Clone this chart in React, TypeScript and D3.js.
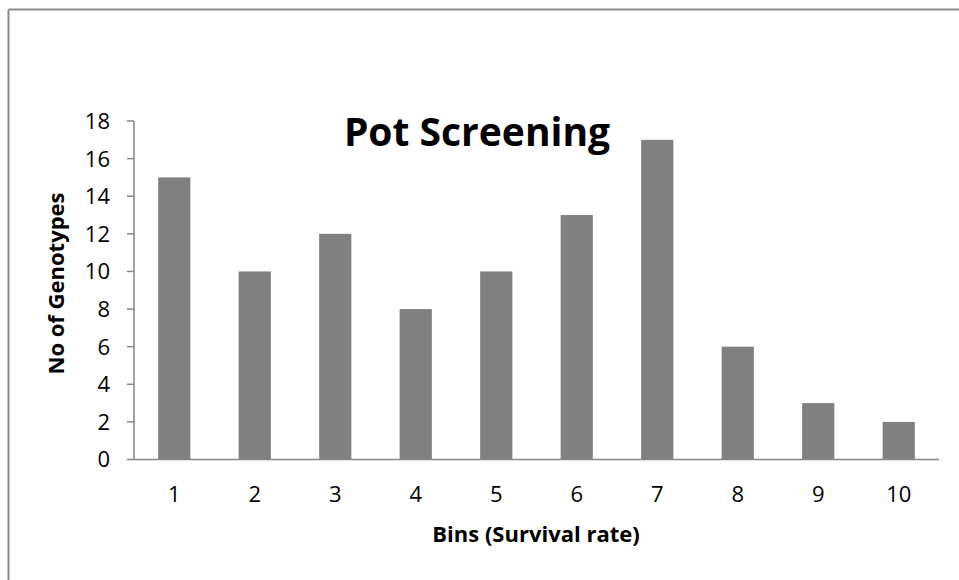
import React from "react";
import * as d3 from "d3";

const categories = ["1", "2", "3", "4", "5", "6", "7", "8", "9", "10"];
const genotypeCounts = [15, 10, 12, 8, 10, 13, 17, 6, 3, 2];
const yTicks = [0, 2, 4, 6, 8, 10, 12, 14, 16, 18];
const chartTitle = "Pot Screening";
const xTitle = "Bins (Survival rate)";
const yTitle = "No of Genotypes";

const W = 959;
const H = 580;
const plot = { left: 134, right: 939, top: 121, bottom: 459.5 };
const FONT = "'Open Sans', 'Noto Sans', Arial, sans-serif";

export default function App() {
  const x = d3
    .scaleBand<string>()
    .domain(categories)
    .range([plot.left, plot.right])
    .paddingInner(0.6)
    .paddingOuter(0.3);
  const y = d3.scaleLinear().domain([0, 18]).range([plot.bottom, plot.top]);
  const axisColor = "#868686";

  return (
    <svg
      width={W}
      height={H}
      style={{ position: "absolute", left: 0, top: 0, background: "#fff" }}
    >
      {/* outer chart frame */}
      <line x1={8.5} y1={9.5} x2={W} y2={9.5} stroke="#8a8a8a" strokeWidth={2} />
      <line x1={8.5} y1={9.5} x2={8.5} y2={H} stroke="#8a8a8a" strokeWidth={2} />

      {/* bars */}
      {categories.map((c, i) => (
        <rect
          key={c}
          x={x(c)}
          y={y(genotypeCounts[i])}
          width={x.bandwidth()}
          height={y(0) - y(genotypeCounts[i])}
          fill="#808080"
        />
      ))}

      {/* y axis */}
      <line x1={plot.left} y1={plot.top} x2={plot.left} y2={plot.bottom} stroke={axisColor} strokeWidth={1.5} />
      {yTicks.map((t) => (
        <g key={t}>
          <line x1={plot.left - 7} x2={plot.left} y1={y(t)} y2={y(t)} stroke={axisColor} strokeWidth={1.5} />
          <text
            x={110}
            y={y(t)}
            dy="0.36em"
            textAnchor="end"
            fontFamily={FONT}
            fontSize={22}
            fill="#000"
          >
            {t}
          </text>
        </g>
      ))}

      {/* x axis */}
      <line x1={plot.left} y1={plot.bottom} x2={plot.right} y2={plot.bottom} stroke={axisColor} strokeWidth={1.5} />
      {categories.map((c) => (
        <text
          key={c}
          x={(x(c) as number) + x.bandwidth() / 2}
          y={502}
          textAnchor="middle"
          fontFamily={FONT}
          fontSize={22}
          fill="#000"
        >
          {c}
        </text>
      ))}

      {/* titles */}
      <text
        x={477}
        y={146}
        textAnchor="middle"
        fontFamily={FONT}
        fontSize={39}
        fontWeight="bold"
        fill="#000"
      >
        {chartTitle}
      </text>
      <text
        x={536}
        y={542}
        textAnchor="middle"
        fontFamily={FONT}
        fontSize={22}
        fontWeight="bold"
        fill="#000"
      >
        {xTitle}
      </text>
      <text
        transform="translate(64, 283.5) rotate(-90)"
        textAnchor="middle"
        fontFamily={FONT}
        fontSize={22}
        fontWeight="bold"
        fill="#000"
      >
        {yTitle}
      </text>
    </svg>
  );
}
